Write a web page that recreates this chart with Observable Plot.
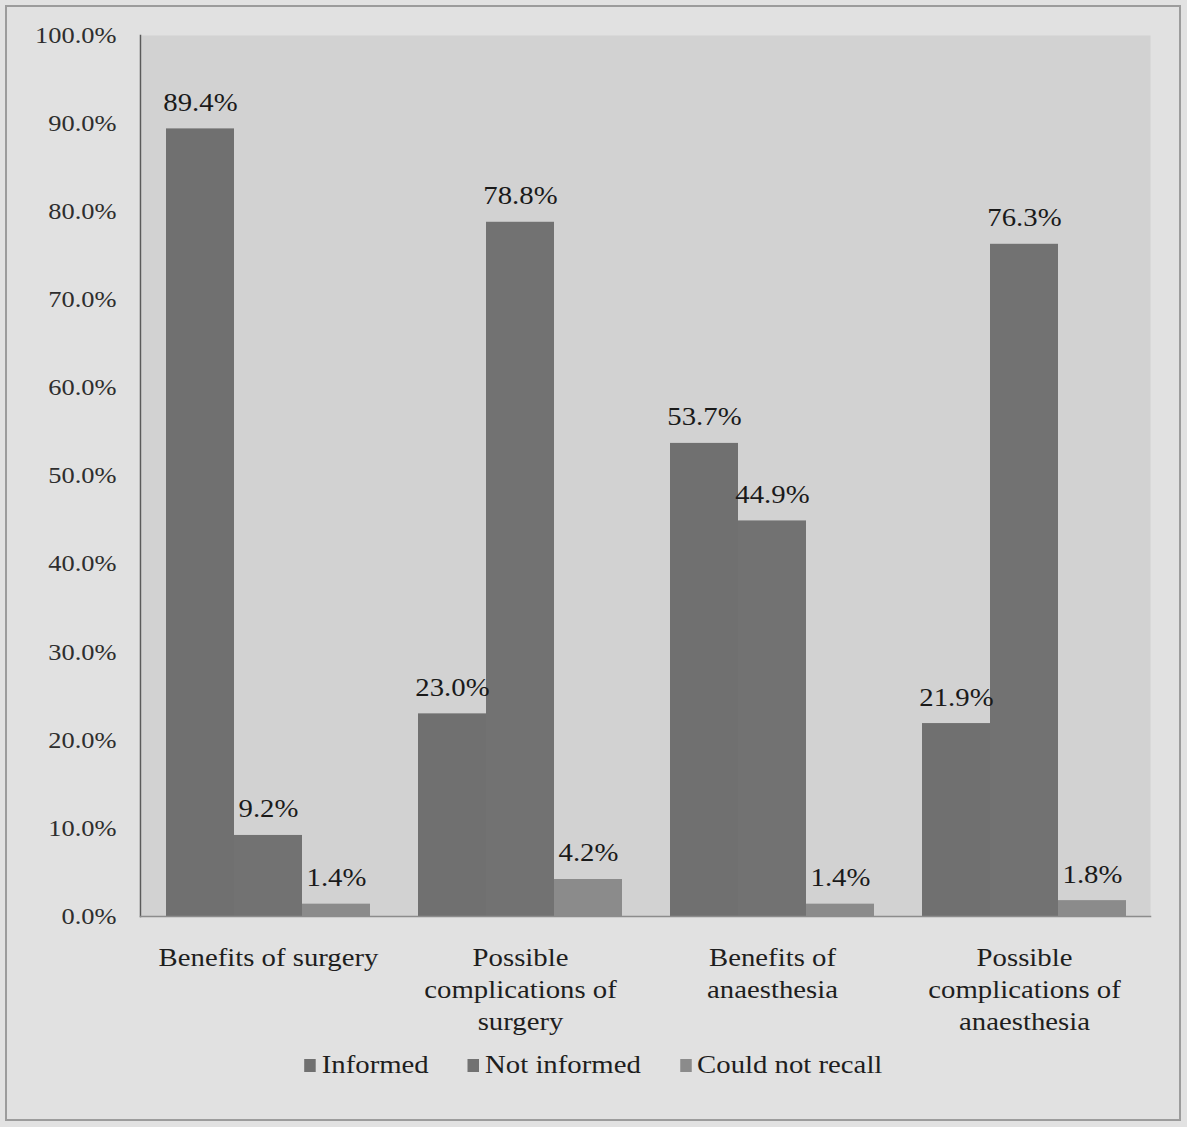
<!DOCTYPE html>
<html>
<head>
<meta charset="utf-8">
<script src="https://cdn.jsdelivr.net/npm/d3@7"></script>
<script src="https://cdn.jsdelivr.net/npm/@observablehq/plot@0.6"></script>
<style>
  html, body { margin: 0; padding: 0; background: #e2e2e2; }
  #frame {
    position: absolute; left: 5px; top: 5px; width: 1176px; height: 1116px;
    border: 2px solid #9c9c9c; box-sizing: border-box; background: #e1e1e1;
  }
  #chart { position: absolute; left: 0; top: 0; }
  #legend {
    position: absolute; left: 0; top: 1051px; width: 1187px;
    display: flex; justify-content: center; gap: 34px;
    font-family: "Liberation Serif", "Times New Roman", serif; font-size: 25px; color: #1e1e1e;
    transform: scaleX(1.15); transform-origin: 594px 0;
  }
  #legend span.item { display: inline-flex; align-items: center; gap: 5px; }
  #legend span.sw { display: inline-block; width: 10px; height: 13px; }
</style>
</head>
<body>
<div id="frame"></div>
<div id="chart"></div>
<div id="legend"></div>
<script>
// Awareness of information given before surgery, by topic
const topics = [
  "Benefits of surgery",
  "Possible complications of surgery",
  "Benefits of anaesthesia",
  "Possible complications of anaesthesia"
];
const topicLabels = [
  "Benefits of surgery",
  "Possible\ncomplications of\nsurgery",
  "Benefits of\nanaesthesia",
  "Possible\ncomplications of\nanaesthesia"
];
const responses = ["Informed", "Not informed", "Could not recall"];
const informed = [89.4, 23.0, 53.7, 21.9];
const notInformed = [9.2, 78.8, 44.9, 76.3];
const couldNotRecall = [1.4, 4.2, 1.4, 1.8];
const yTicks = [0, 10, 20, 30, 40, 50, 60, 70, 80, 90, 100];
const colors = ["#707070", "#727272", "#8b8b8b"];

const series = [informed, notInformed, couldNotRecall];
const rows = [];
topics.forEach((t, i) => {
  responses.forEach((r, j) => {
    rows.push({topic: t, response: r, value: series[j][i]});
  });
});

const font = `"Liberation Serif", "Times New Roman", serif`;

const chart = Plot.plot({
  width: 1187,
  height: 1045,
  marginTop: 35,
  marginLeft: 166,
  marginRight: 60,
  marginBottom: 129,
  style: {fontFamily: font, fontSize: "25px", background: "transparent", color: "#222"},
  fx: {domain: topics, paddingInner: 0.19, paddingOuter: 0, label: null},
  x: {domain: responses, padding: 0, axis: null},
  y: {domain: [0, 100], ticks: yTicks, label: null},
  color: {domain: responses, range: colors},
  marks: [
    // plot area background, extending past the outer groups
    Plot.frame({fill: "#d2d2d2", stroke: null, facet: "super", insetLeft: -25, insetRight: -24}),
    Plot.axisY({
      ticks: yTicks, tickSize: 0, tickPadding: 50, label: null,
      tickFormat: d => d.toFixed(1) + "%", fill: "#2e2e2e", fontSize: 23
    }),
    Plot.axisFx({
      anchor: "bottom", tickSize: 0, tickPadding: 27, label: null,
      tickFormat: d => topicLabels[topics.indexOf(d)],
      lineHeight: 1.28, fill: "#1e1e1e", fontSize: 25
    }),
    Plot.barY(rows, {fx: "topic", x: "response", y: "value", fill: "response"}),
    Plot.text(rows, {
      fx: "topic", x: "response", y: "value",
      text: d => d.value.toFixed(1) + "%",
      lineAnchor: "bottom", dy: -18, fill: "#1a1a1a", fontSize: 25
    }),
    // value axis line and baseline
    Plot.frame({anchor: "left", facet: "super", insetLeft: -26, stroke: "#5a5a5a", strokeWidth: 1.5}),
    Plot.frame({anchor: "bottom", facet: "super", insetLeft: -26, insetRight: -24, stroke: "#8c8c8c", strokeWidth: 1.5})
  ]
});

// Slightly widened lettering for every label
d3.select(chart).selectAll("text").each(function () {
  const t = d3.select(this);
  const tr = t.attr("transform");
  if (tr && tr.includes("translate")) {
    t.attr("transform", tr + " scale(1.15,1)");
  } else {
    const x = +t.attr("x") || 0, y = +t.attr("y") || 0;
    t.attr("x", null).attr("y", null)
     .attr("transform", `translate(${x},${y}) scale(1.15,1)`);
  }
});
document.getElementById("chart").appendChild(chart);

// Legend below the chart
const legend = document.getElementById("legend");
responses.forEach((r, j) => {
  const item = document.createElement("span");
  item.className = "item";
  const sw = document.createElement("span");
  sw.className = "sw";
  sw.style.background = colors[j];
  item.appendChild(sw);
  item.appendChild(document.createTextNode(r));
  legend.appendChild(item);
});
</script>
</body>
</html>
